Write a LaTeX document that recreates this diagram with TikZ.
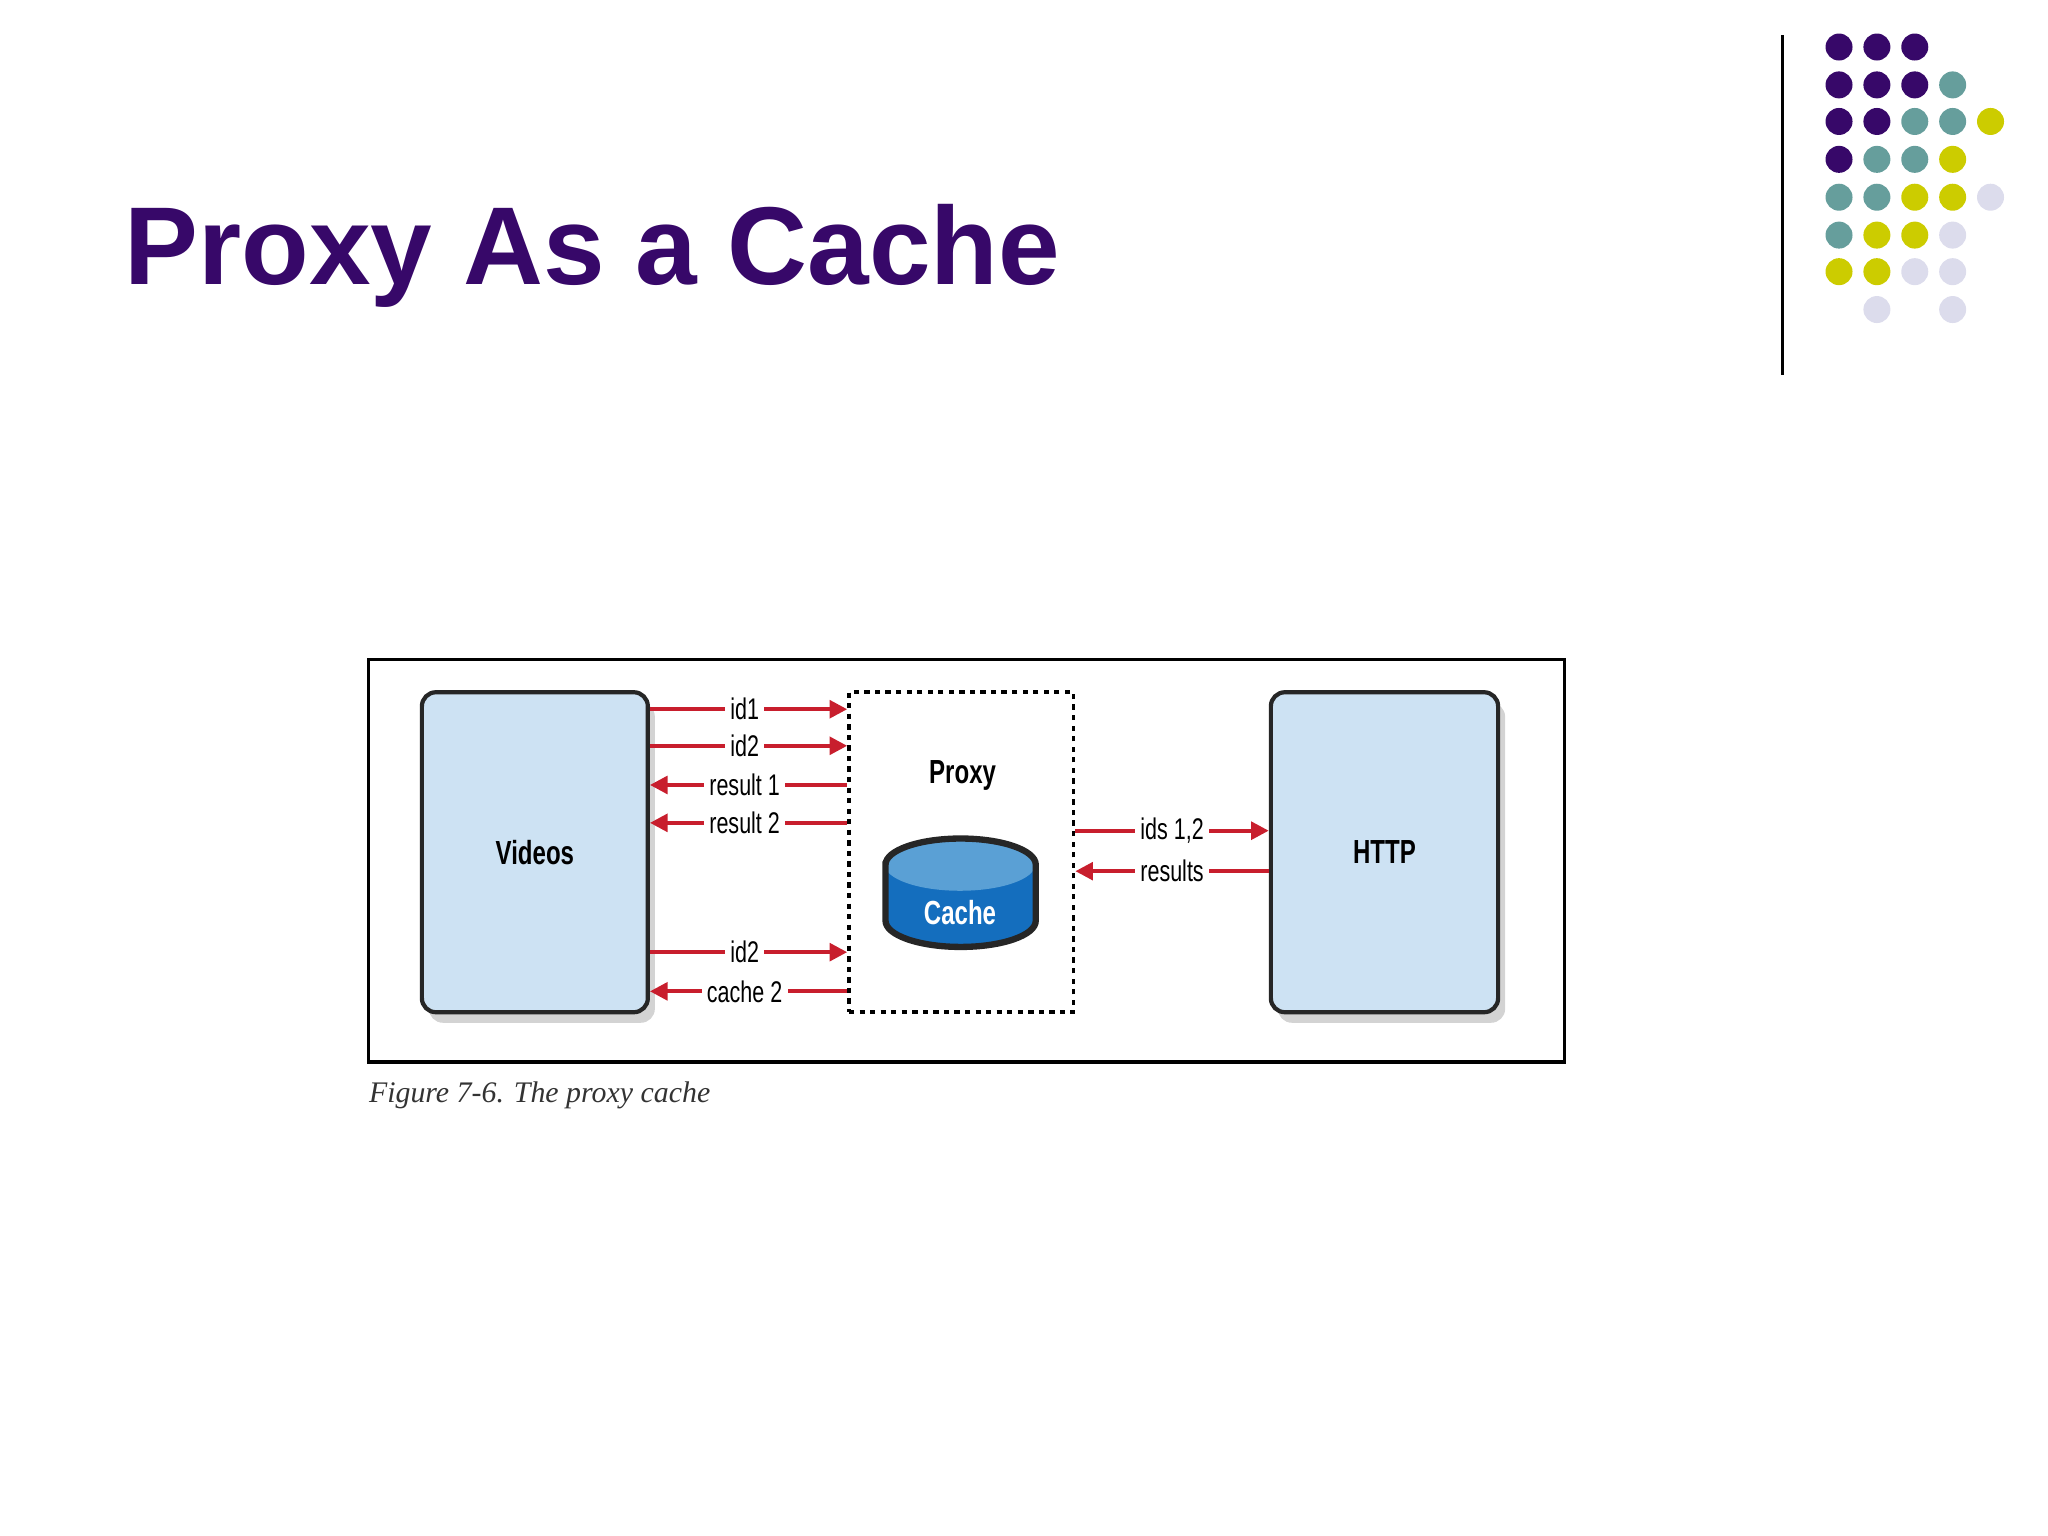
\documentclass[tikz,border=0pt]{standalone}
\usepackage{fontspec}
\setmainfont{Liberation Sans}
\newfontfamily\narrowf{Liberation Sans}[FakeStretch=0.72]
\newfontfamily\capf{Liberation Serif}
\usetikzlibrary{arrows.meta,shadows}
\definecolor{ttl}{RGB}{55,8,105}
\definecolor{dP}{RGB}{55,8,105}
\definecolor{dT}{RGB}{102,158,156}
\definecolor{dY}{RGB}{204,204,0}
\definecolor{dL}{RGB}{220,220,236}
\definecolor{boxfill}{RGB}{205,226,243}
\definecolor{arr}{RGB}{200,30,45}
\definecolor{cyltop}{RGB}{90,160,213}
\definecolor{cylbody}{RGB}{20,110,190}
\def\u{0.01306cm}
\begin{document}
\begin{tikzpicture}[x=\u,y=-\u,
  dot/.style={circle,inner sep=0pt,minimum size=0.27cm},
  box/.style={draw=black!85,line width=1.2pt,rounded corners=4pt,fill=boxfill,inner sep=0pt,drop shadow={shadow xshift=2pt,shadow yshift=-3pt,opacity=0.35}},
  lbl/.style={font=\narrowf\fontsize{8.5}{9}\selectfont,fill=white,inner sep=1.5pt},
  bl/.style={font=\narrowf\bfseries\fontsize{9.5}{10}\selectfont},
  con/.style={draw=arr,line width=1.1pt},
  tip/.style={-{Triangle[length=5pt,width=5pt]}}]
\path[use as bounding box] (0,0) rectangle (20.48cm,-15.36cm);
\node[anchor=base west,text=ttl,font=\bfseries\fontsize{31.5}{36}\selectfont,inner sep=0pt] (title) at (95,218) {Proxy As a Cache};
\draw[line width=0.8pt] (1365,27) coordinate (vt) -- (1365,287) coordinate (vb);
% dots
\foreach \row/\y/\cols in {1/36/{1/P,2/P,3/P},2/65/{1/P,2/P,3/P,4/T},3/93/{1/P,2/P,3/T,4/T,5/Y},4/122/{1/P,2/T,3/T,4/Y},5/151/{1/T,2/T,3/Y,4/Y,5/L},6/180/{1/T,2/Y,3/Y,4/L},7/208/{1/Y,2/Y,3/L,4/L},8/237/{2/L,4/L}}{
  \foreach \c/\k in \cols {
    \node[dot,fill=d\k] (d\row-\c) at ({1408+29*(\c-1)},\y) {};
  }
}
% frame
\node[draw,line width=1pt,minimum width=916*\u,minimum height=308*\u,inner sep=0pt] (frame) at (740,659) {};
\node[box,minimum width=173*\u,minimum height=245*\u,bl] (videos) at (409.5,652.5) {Videos};
\node[box,minimum width=174*\u,minimum height=245*\u,bl] (http) at (1060,652.5) {HTTP};
\node[draw,dash pattern=on 1.5pt off 1.5pt,line width=1pt,minimum width=172*\u,minimum height=245*\u,inner sep=0pt] (proxy) at (736,652.5) {};
\node[bl] (proxylbl) at (737,594) {Proxy};
% cylinder
\fill[cylbody] (678,662) -- (678,705) arc[start angle=180,end angle=0,x radius=57.5,y radius=20] -- (793,662) -- cycle;
\fill[cyltop] (735,662) ellipse[x radius=57.5,y radius=20];
\draw[line width=1.8pt,black!85] (678,662) -- (678,705) arc[start angle=180,end angle=0,x radius=57.5,y radius=20] -- (793,662) arc[start angle=0,end angle=-180,x radius=57.5,y radius=20] -- cycle;
\node[text=white,bl] (cache) at (735,699) {Cache};
% rows
\foreach \n/\y in {a/543,b/571,c/601,d/630,e/729,f/759,g/636,h/667} {\coordinate (y\n) at (0,\y);}
\draw[con,tip] (videos.east |- ya) -- node[lbl,pos=0.48] {id1} (proxy.west |- ya);
\draw[con,tip] (videos.east |- yb) -- node[lbl,pos=0.48] {id2} (proxy.west |- yb);
\draw[con,tip] (proxy.west |- yc) -- node[lbl,pos=0.52] {result 1} (videos.east |- yc);
\draw[con,tip] (proxy.west |- yd) -- node[lbl,pos=0.52] {result 2} (videos.east |- yd);
\draw[con,tip] (videos.east |- ye) -- node[lbl,pos=0.48] {id2} (proxy.west |- ye);
\draw[con,tip] (proxy.west |- yf) -- node[lbl,pos=0.52] {cache 2} (videos.east |- yf);
\draw[con,tip] (proxy.east |- yg) -- node[lbl,pos=0.5] {ids 1,2} (http.west |- yg);
\draw[con,tip] (http.west |- yh) -- node[lbl,pos=0.5] {results} (proxy.east |- yh);
\node[anchor=west,font=\capf\itshape\fontsize{8.5}{10}\selectfont,text=black!80,inner sep=0pt] (caption) at (282,839) {Figure 7-6. The proxy cache};
\end{tikzpicture}
\end{document}
